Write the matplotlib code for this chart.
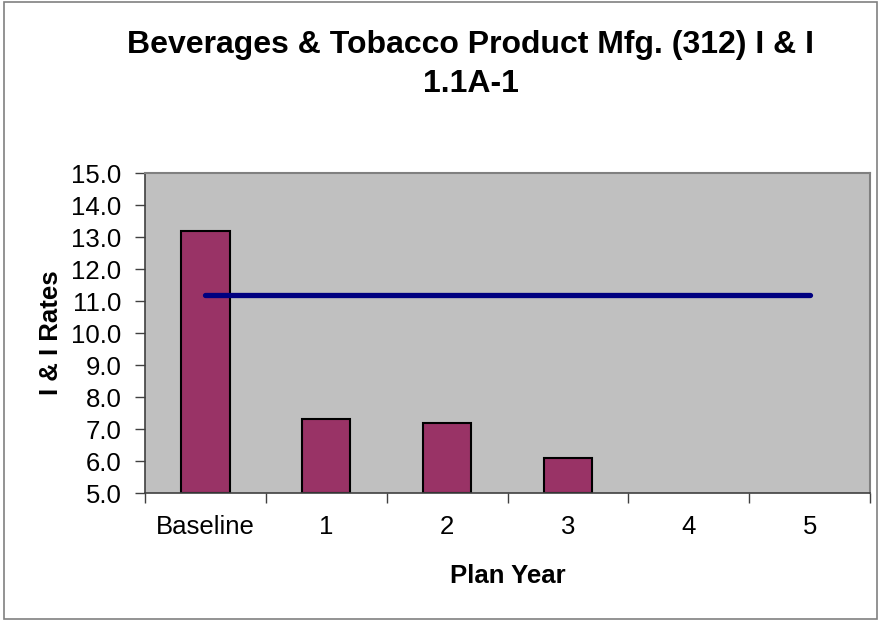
import numpy as np
import matplotlib.pyplot as plt
from matplotlib.patches import Rectangle

plt.rcParams['font.family'] = ['Liberation Sans', 'DejaVu Sans']

# data
categories = ['Baseline', '1', '2', '3', '4', '5']
rates = [13.2, 7.3, 7.2, 6.1, np.nan, np.nan]
target = [11.2, 11.2, 11.2, 11.2, 11.2, 11.2]
title_lines = ['Beverages & Tobacco Product Mfg. (312) I & I', '1.1A-1']

fig = plt.figure(figsize=(8.81, 6.21), dpi=100)
ax = fig.add_axes([0.1646, 0.2061, 0.823, 0.5153])
ax.set_facecolor('#C0C0C0')

x = np.arange(len(categories))
base = 5.0
idx = [i for i, r in enumerate(rates) if not np.isnan(r)]
ax.bar([x[i] for i in idx], [rates[i] - base for i in idx], bottom=base, width=0.4,
       color='#993366', edgecolor='black', linewidth=1.5, zorder=2)
ax.plot(x, target, color='#000080', linewidth=3.8, solid_capstyle='round', zorder=3)

ax.set_xlim(-0.5, len(categories) - 0.5)
ax.set_ylim(5, 15)
yt = np.arange(5, 15.1, 1)
ax.set_yticks(yt)
ax.set_yticklabels([f'{v:.1f}' for v in yt], fontsize=18.5)
ax.set_xticks(x)
ax.set_xticklabels(categories, fontsize=18.5)
ax.set_xticks(np.arange(-0.5, len(categories), 1), minor=True)
ax.tick_params(axis='x', which='major', length=0, pad=16)
ax.tick_params(axis='x', which='minor', length=7, width=1, color='#404040', direction='out')
ax.tick_params(axis='y', length=7, width=1, color='#404040', pad=10)

for side in ['top', 'right']:
    ax.spines[side].set_color('#808080')
    ax.spines[side].set_linewidth(1.5)
for side in ['left', 'bottom']:
    ax.spines[side].set_color('#404040')
    ax.spines[side].set_linewidth(1.2)

ax.set_xlabel('Plan Year', fontsize=18.5, fontweight='bold', labelpad=18)
ax.set_ylabel('I & I Rates', fontsize=18.5, fontweight='bold', labelpad=6)

# two-line title
fig.text(0.534, 0.9147, title_lines[0], ha='center', va='baseline', fontsize=23, fontweight='bold')
fig.text(0.534, 0.8519, title_lines[1], ha='center', va='baseline', fontsize=23, fontweight='bold')

# outer chart border
fig.patches.append(Rectangle((0.005, 0.003), 0.99, 0.994, transform=fig.transFigure,
                             fill=False, edgecolor='#808080', linewidth=1.2))

plt.savefig('out.png', dpi=100)
plt.close()
